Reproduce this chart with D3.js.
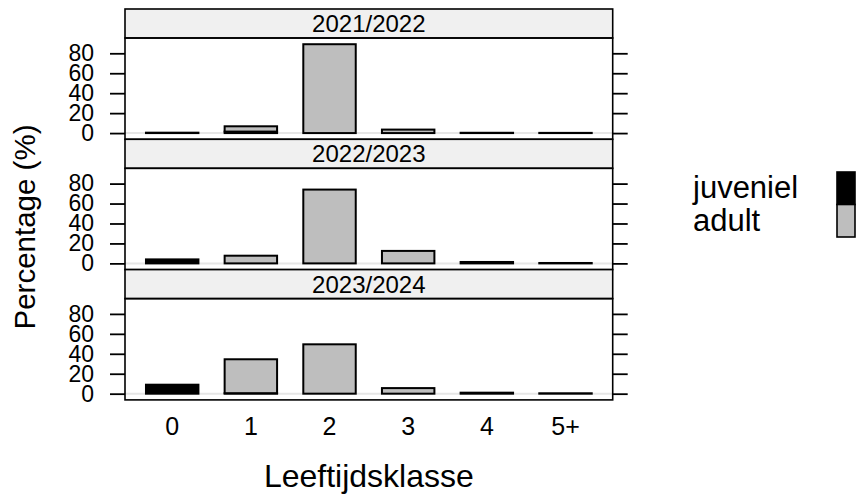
<!DOCTYPE html>
<html>
<head>
<meta charset="utf-8">
<script src="https://cdn.jsdelivr.net/npm/d3@7"></script>
<style>
  html, body { margin: 0; padding: 0; background: #fff; }
  svg { display: block; font-family: "Liberation Sans", Arial, sans-serif; }
</style>
</head>
<body>
<svg id="chart" width="860" height="499"></svg>
<script>
// Age classes on the x axis
const ageClasses = ["0", "1", "2", "3", "4", "5+"];
// One panel per season
const seasons = ["2021/2022", "2022/2023", "2023/2024"];
// Percentage juvenile / adult per age class, one row per season
const juvenile = [
  [0.4, 1.5, 0, 0, 0, 0],
  [4.0, 0, 0, 0, 0, 0],
  [9.0, 0.5, 0, 0, 0, 0]
];
const adult = [
  [0, 5.3, 89.1, 3.5, 0.3, 0.2],
  [0, 7.7, 74.0, 12.5, 1.4, 0.4],
  [0, 34.0, 49.5, 5.6, 1.0, 0.4]
];
const groups = ["juveniel", "adult"];
const yTicks = [0, 20, 40, 60, 80];

const colors = { juveniel: "#000000", adult: "#bebebe" };

const svg = d3.select("#chart");
const fontFamily = "Liberation Sans, Arial, sans-serif";

// Panel geometry
const left = 125, right = 612.7;
const stripTop = 9, stripH = 29, plotH = 101.3;
const panelStep = stripH + plotH;

// Shared y scale over all panels, padded 7% of the data range on both ends
const maxTotal = d3.max(seasons.map((s, i) =>
  d3.max(ageClasses.map((c, j) => juvenile[i][j] + adult[i][j]))));
const pad = 0.07 * maxTotal;

const x = d3.scaleBand()
  .domain(ageClasses)
  .range([left, right])
  .paddingInner(1 / 3)
  .paddingOuter(0.2667);

seasons.forEach((season, i) => {
  const top = stripTop + i * panelStep;
  const pTop = top + stripH;
  const pBot = pTop + plotH;

  const y = d3.scaleLinear()
    .domain([-pad, maxTotal + pad])
    .range([pBot, pTop]);

  const g = svg.append("g");

  // strip with season label
  g.append("rect")
    .attr("x", left).attr("y", top)
    .attr("width", right - left).attr("height", stripH)
    .attr("fill", "#f0f0f0").attr("stroke", "#000").attr("stroke-width", 1.6);
  g.append("text")
    .attr("x", (left + right) / 2).attr("y", top + stripH / 2)
    .attr("dy", "0.36em")
    .attr("text-anchor", "middle")
    .attr("font-size", 24)
    .attr("fill", "#000")
    .text(season);

  // reference line at zero
  g.append("line")
    .attr("x1", left).attr("x2", right)
    .attr("y1", y(0)).attr("y2", y(0))
    .attr("stroke", "#e6e6e6").attr("stroke-width", 2);

  // stacked bars: juvenile at the bottom, adult on top
  ageClasses.forEach((c, j) => {
    let base = 0;
    groups.forEach(grp => {
      const v = (grp === "juveniel" ? juvenile : adult)[i][j];
      if (v > 0) {
        g.append("rect")
          .attr("x", x(c)).attr("width", x.bandwidth())
          .attr("y", y(base + v)).attr("height", y(base) - y(base + v))
          .attr("fill", colors[grp])
          .attr("stroke", "#000").attr("stroke-width", 2);
      }
      base += v;
    });
  });

  // panel border
  g.append("rect")
    .attr("x", left).attr("y", pTop)
    .attr("width", right - left).attr("height", plotH)
    .attr("fill", "none").attr("stroke", "#000").attr("stroke-width", 1.6);

  // left axis with labels, right axis ticks only
  const yl = g.append("g")
    .attr("transform", `translate(${left},0)`)
    .call(d3.axisLeft(y).tickValues(yTicks).tickSize(15).tickPadding(16));
  yl.select(".domain").remove();
  yl.selectAll("line").attr("stroke", "#000").attr("stroke-width", 1.8);
  yl.selectAll("text").attr("font-size", 23).attr("fill", "#000")
    .attr("font-family", fontFamily);

  const yr = g.append("g")
    .attr("transform", `translate(${right},0)`)
    .call(d3.axisRight(y).tickValues(yTicks).tickSize(15).tickFormat(""));
  yr.select(".domain").remove();
  yr.selectAll("line").attr("stroke", "#000").attr("stroke-width", 1.8);

  if (i === seasons.length - 1) {
    const xb = g.append("g")
      .attr("transform", `translate(0,${pBot})`)
      .call(d3.axisBottom(x).tickSize(0).tickPadding(17));
    xb.select(".domain").remove();
    xb.selectAll("text").attr("font-size", 25).attr("fill", "#000")
      .attr("font-family", fontFamily);
  }
});

// axis titles
svg.append("text")
  .attr("x", (left + right) / 2).attr("y", 487)
  .attr("text-anchor", "middle")
  .attr("font-size", 32)
  .text("Leeftijdsklasse");

svg.append("text")
  .attr("transform", "translate(35,227) rotate(-90)")
  .attr("text-anchor", "middle")
  .attr("font-size", 29.5)
  .text("Percentage (%)");

// legend: labels on the left, stacked key on the right
const legendTop = 172, legendRow = 32.5;
groups.forEach((grp, k) => {
  svg.append("text")
    .attr("x", 693).attr("y", 198 + k * legendRow)
    .attr("font-size", 31)
    .text(grp);
  svg.append("rect")
    .attr("x", 837).attr("y", legendTop + k * legendRow)
    .attr("width", 18).attr("height", legendRow)
    .attr("fill", colors[grp])
    .attr("stroke", "#000").attr("stroke-width", 1.6);
});
</script>
</body>
</html>
